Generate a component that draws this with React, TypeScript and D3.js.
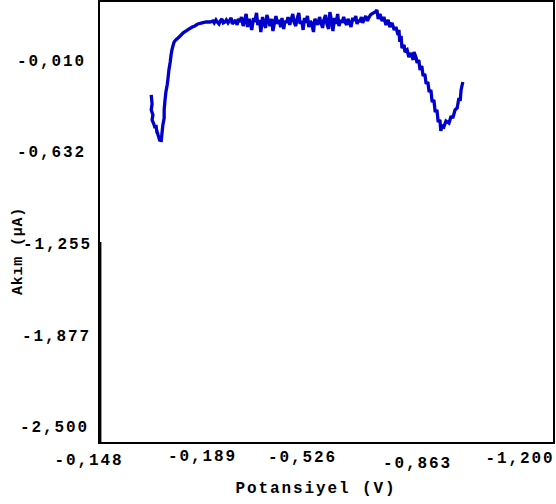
import React from "react";
import * as d3 from "d3";

// Forward scan: potential (V) and measured current (µA), in scan order
const potential = [
  // cathodic dip and rise
  -0.269, -0.271, -0.269, -0.273, -0.271, -0.275, -0.278, -0.28, -0.282, -0.285,
  -0.282, -0.287, -0.289, -0.292, -0.292, -0.294, -0.296, -0.299, -0.299, -0.301,
  -0.303, -0.306, -0.308, -0.31, -0.313, -0.315, -0.317, -0.32, -0.322, -0.326,
  -0.331, -0.336, -0.343, -0.35, -0.357, -0.364, -0.37, -0.377, -0.387, -0.396,
  -0.405,
  // plateau
  -0.412, -0.415, -0.419, -0.422, -0.426, -0.429, -0.433, -0.436, -0.44, -0.443,
  -0.447, -0.45, -0.454, -0.457, -0.461, -0.464, -0.468, -0.471, -0.475, -0.478,
  -0.482, -0.485, -0.489, -0.492, -0.496, -0.499, -0.502, -0.506, -0.509, -0.513,
  -0.516, -0.52, -0.523, -0.527, -0.53, -0.534, -0.537, -0.541, -0.544, -0.548,
  -0.551, -0.555, -0.558, -0.562, -0.565, -0.569, -0.572, -0.576, -0.579, -0.583,
  -0.586, -0.59, -0.593, -0.597, -0.6, -0.604, -0.607, -0.611, -0.614, -0.618,
  -0.621, -0.624, -0.627, -0.631, -0.634, -0.638, -0.641, -0.645, -0.648, -0.652,
  -0.655, -0.659, -0.662, -0.666, -0.669, -0.673, -0.676, -0.68, -0.683, -0.687,
  -0.69, -0.694, -0.697, -0.701, -0.704, -0.708, -0.711, -0.715, -0.718, -0.722,
  -0.725, -0.729, -0.732, -0.736, -0.739, -0.743, -0.746, -0.749, -0.752, -0.756,
  -0.759, -0.763, -0.766, -0.77, -0.773, -0.777, -0.78,
  // second wave
  -0.788, -0.792, -0.795, -0.799, -0.804, -0.808, -0.813, -0.818, -0.822, -0.827,
  -0.832, -0.836, -0.841, -0.843, -0.845, -0.848, -0.85, -0.855, -0.857, -0.862,
  -0.866, -0.871, -0.876, -0.878, -0.883, -0.885, -0.889, -0.892, -0.896, -0.899,
  -0.903, -0.906, -0.91, -0.913, -0.917, -0.92, -0.924, -0.927, -0.931, -0.934,
  -0.938, -0.94, -0.943, -0.947, -0.952, -0.959, -0.964, -0.968, -0.973, -0.978,
  -0.982, -0.985, -0.987, -0.991,
];
const current = [
  // cathodic dip and rise
  -0.234, -0.295, -0.336, -0.37, -0.404, -0.432, -0.459, -0.438, -0.486, -0.506,
  -0.479, -0.527, -0.547, -0.513, -0.554, -0.493, -0.438, -0.391, -0.336, -0.268,
  -0.214, -0.166, -0.119, -0.064, -0.01, 0.038, 0.072, 0.106, 0.126, 0.14,
  0.153, 0.167, 0.188, 0.201, 0.215, 0.228, 0.235, 0.249, 0.256, 0.262,
  0.262,
  // plateau
  0.269, 0.256, 0.276, 0.262, 0.249, 0.269, 0.283, 0.256, 0.262, 0.276,
  0.256, 0.269, 0.29, 0.249, 0.262, 0.276, 0.242, 0.283, 0.262, 0.296,
  0.235, 0.269, 0.317, 0.228, 0.283, 0.249, 0.208, 0.29, 0.262, 0.324,
  0.242, 0.276, 0.194, 0.296, 0.256, 0.222, 0.31, 0.269, 0.235, 0.283,
  0.201, 0.262, 0.303, 0.249, 0.276, 0.228, 0.29, 0.215, 0.269, 0.256,
  0.296, 0.242, 0.276, 0.317, 0.262, 0.235, 0.283, 0.324, 0.249, 0.269,
  0.208, 0.29, 0.256, 0.303, 0.228, 0.269, 0.249, 0.194, 0.283, 0.262,
  0.242, 0.296, 0.262, 0.222, 0.276, 0.31, 0.249, 0.215, 0.33, 0.269,
  0.201, 0.29, 0.249, 0.317, 0.235, 0.276, 0.256, 0.296, 0.262, 0.242,
  0.283, 0.256, 0.228, 0.29, 0.269, 0.303, 0.249, 0.276, 0.262, 0.296,
  0.256, 0.283, 0.303, 0.269, 0.29, 0.31, 0.317,
  // second wave
  0.33, 0.344, 0.283, 0.317, 0.269, 0.296, 0.242, 0.276, 0.228, 0.256,
  0.208, 0.228, 0.174, 0.208, 0.126, 0.167, 0.085, 0.106, 0.058, 0.072,
  0.024, 0.051, 0.004, 0.058, 0.017, -0.017, 0.004, -0.064, -0.037, -0.105,
  -0.091, -0.159, -0.146, -0.214, -0.2, -0.282, -0.268, -0.35, -0.336, -0.418,
  -0.404, -0.479, -0.445, -0.452, -0.411, -0.425, -0.377, -0.391, -0.336, -0.323,
  -0.255, -0.275, -0.2, -0.146,
];

const yTickValues = [-0.01, -0.632, -1.255, -1.877, -2.5];
const xTickValues = [-0.148, -0.189, -0.526, -0.863, -1.2];

// Layout
const W = 556;
const H = 504;
const frame = { left: 99, top: 1, right: 554, bottom: 443 };
const xTickPos = [89, 202.5, 302.5, 417.5, 520];
const xTickMid = [460.5, 456.7, 458, 463.5, 458.5];
const yTickEnd = [86, 86, 92, 91, 89];

const FONT = "'Liberation Mono', 'DejaVu Sans Mono', 'Courier New', monospace";

const fmt = d3
  .formatLocale({ decimal: ",", thousands: ".", grouping: [3], currency: ["", ""], minus: "-" })
  .format(".3f");

export default function App() {
  const x = d3.scaleLinear().domain([-0.148, -1.2]).range([99, 553]);
  const y = d3.scaleLinear().domain([-2.5, -0.01]).range([428.1, 62]);

  const n = Math.min(potential.length, current.length);
  const pts: [number, number][] = d3.range(n).map((i) => [potential[i], current[i]]);
  const line = d3
    .line<[number, number]>()
    .x((d) => x(d[0]))
    .y((d) => y(d[1]));

  return (
    <svg
      width={W}
      height={H}
      style={{ position: "fixed", left: 0, top: 0, background: "#fff" }}
    >
      <rect x={0} y={0} width={W} height={H} fill="#fff" />
      <path
        d={line(pts) || ""}
        fill="none"
        stroke="#0000CC"
        strokeWidth={3.3}
        strokeLinejoin="miter"
        strokeMiterlimit={2}
      />
      <rect
        x={frame.left}
        y={frame.top}
        width={frame.right - frame.left}
        height={frame.bottom - frame.top}
        fill="none"
        stroke="#000"
        strokeWidth={2}
      />
      <line x1={100.6} x2={100.6} y1={242} y2={frame.bottom} stroke="#000" strokeWidth={1.6} />

      <g fontFamily={FONT} fontWeight="bold" fontSize={16} letterSpacing={1.9} fill="#000">
        {yTickValues.map((v, i) => (
          <text key={"y" + i} x={yTickEnd[i]} y={y(v)} textAnchor="end" dominantBaseline="central">
            {fmt(v)}
          </text>
        ))}
        {xTickValues.map((v, i) => (
          <text key={"x" + i} x={xTickPos[i]} y={xTickMid[i]} textAnchor="middle" dominantBaseline="central">
            {fmt(v)}
          </text>
        ))}
        <text x={316} y={489} textAnchor="middle" dominantBaseline="central">
          Potansiyel (V)
        </text>
      </g>
      <text
        transform="translate(18,251) rotate(-90)"
        fontFamily={FONT}
        fontWeight="bold"
        fontSize={15}
        letterSpacing={0.8}
        textAnchor="middle"
        dominantBaseline="central"
        fill="#000"
      >
        Akım (µA)
      </text>
    </svg>
  );
}
